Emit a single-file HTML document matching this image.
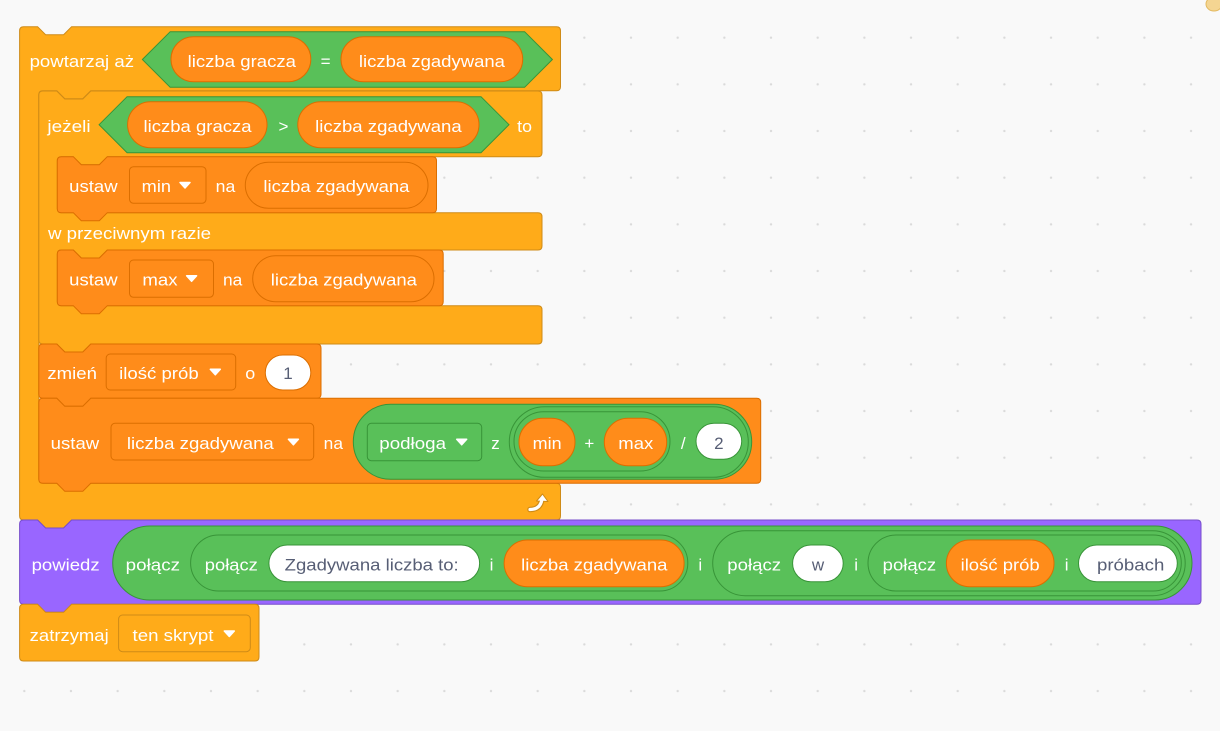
<!DOCTYPE html>
<html>
<head>
<meta charset="utf-8">
<style>
html,body{margin:0;padding:0;background:#F9F9F9;}
svg{display:block;}
text{font-family:"Liberation Sans",Arial,sans-serif;font-size:17px;fill:#fff;}
.d{fill:#575E75;}
</style>
</head>
<body>
<svg width="1220" height="731" viewBox="0 0 1220 731" xmlns="http://www.w3.org/2000/svg">
<defs>
<pattern id="dots" x="0" y="0" width="46.67" height="46.67" patternUnits="userSpaceOnUse">
<circle cx="24.3" cy="37.7" r="1.2" fill="#DADADA"/>
</pattern>
</defs>
<rect width="1220" height="731" fill="#F9F9F9"/>
<rect width="1220" height="731" fill="url(#dots)"/>
<ellipse cx="1214" cy="4" rx="8" ry="7" fill="#F4D592" stroke="#E3B95F" stroke-width="1"/>

<!-- repeat until -->
<path fill="#FFAB19" stroke="#CF8B17" stroke-width="1" d="M19.6,30.7 Q19.6,26.7 23.6,26.7 L37.6,26.7 L45.6,34.7 L63.6,34.7 L71.6,26.7 L556.5,26.7 Q560.5,26.7 560.5,30.7 L560.5,86.7 Q560.5,90.7 556.5,90.7 L90.8,90.7 L82.8,98.7 L64.8,98.7 L56.8,90.7 L42.8,90.7 Q38.8,90.7 38.8,94.7 L38.8,479.3 Q38.8,483.3 42.8,483.3 L556.5,483.3 Q560.5,483.3 560.5,487.3 L560.5,516 Q560.5,520 556.5,520 L71.6,520 L63.6,528 L45.6,528 L37.6,520 L23.6,520 Q19.6,520 19.6,516 Z"/>
<polygon points="142.4,59.5 170.2,31.7 524.6,31.7 552.4,59.5 524.6,87.3 170.2,87.3" fill="#59C059" stroke="#389438" stroke-width="1"/>
<rect x="171" y="36.7" width="139.8" height="45" rx="22.5" fill="#FF8C1A" stroke="#DB6E00"/>
<rect x="341" y="36.7" width="181.7" height="45" rx="22.5" fill="#FF8C1A" stroke="#DB6E00"/>
<text x="29.6" y="67" textLength="104.4" lengthAdjust="spacingAndGlyphs">powtarzaj aż</text>
<text x="187.6" y="67" textLength="108.4" lengthAdjust="spacingAndGlyphs">liczba gracza</text>
<text x="325.6" y="67" text-anchor="middle">=</text>
<text x="358.9" y="67" textLength="146.1" lengthAdjust="spacingAndGlyphs">liczba zgadywana</text>

<!-- if else -->
<path fill="#FFAB19" stroke="#CF8B17" stroke-width="1" d="M38.8,95 Q38.8,91 42.8,91 L56.8,91 L64.8,99 L82.8,99 L90.8,91 L538,91 Q542,91 542,95 L542,152.7 Q542,156.7 538,156.7 L107.3,156.7 L99.3,164.7 L81.3,164.7 L73.3,156.7 L61.3,156.7 Q57.3,156.7 57.3,160.7 L57.3,208.7 Q57.3,212.7 61.3,212.7 L538,212.7 Q542,212.7 542,216.7 L542,246 Q542,250 538,250 L107.3,250 L99.3,258 L81.3,258 L73.3,250 L61.3,250 Q57.3,250 57.3,254 L57.3,301.7 Q57.3,305.7 61.3,305.7 L538,305.7 Q542,305.7 542,309.7 L542,340 Q542,344 538,344 L90.8,344 L82.8,352 L64.8,352 L56.8,344 L42.8,344 Q38.8,344 38.8,340 Z"/>
<polygon points="99.1,124.7 127.1,96.7 481,96.7 509,124.7 481,152.7 127.1,152.7" fill="#59C059" stroke="#389438" stroke-width="1"/>
<rect x="127.6" y="101.7" width="139.4" height="46" rx="23" fill="#FF8C1A" stroke="#DB6E00"/>
<rect x="297.8" y="101.7" width="181.2" height="46" rx="23" fill="#FF8C1A" stroke="#DB6E00"/>
<text x="47.4" y="132.2" textLength="43.2" lengthAdjust="spacingAndGlyphs">jeżeli</text>
<text x="143.5" y="132.2" textLength="108.1" lengthAdjust="spacingAndGlyphs">liczba gracza</text>
<text x="283.5" y="132.2" text-anchor="middle">&gt;</text>
<text x="315.2" y="132.2" textLength="146.5" lengthAdjust="spacingAndGlyphs">liczba zgadywana</text>
<text x="517.2" y="132.2" textLength="14.8" lengthAdjust="spacingAndGlyphs">to</text>
<text x="48" y="238.9" textLength="163" lengthAdjust="spacingAndGlyphs">w przeciwnym razie</text>

<!-- ustaw min -->
<path fill="#FF8C1A" stroke="#DB6E00" stroke-width="1" d="M57.3,160.7 Q57.3,156.7 61.3,156.7 L73.3,156.7 L81.3,164.7 L99.3,164.7 L107.3,156.7 L432.5,156.7 Q436.5,156.7 436.5,160.7 L436.5,208.7 Q436.5,212.7 432.5,212.7 L107.3,212.7 L99.3,220.7 L81.3,220.7 L73.3,212.7 L61.3,212.7 Q57.3,212.7 57.3,208.7 Z"/>
<rect x="129.5" y="166.7" width="76.5" height="36.6" rx="4" fill="#FF8C1A" stroke="#DB6E00"/>
<rect x="245.3" y="162.3" width="182.7" height="46" rx="23" fill="#FF8C1A" stroke="#DB6E00"/>
<text x="69.2" y="192.2" textLength="48.4" lengthAdjust="spacingAndGlyphs">ustaw</text>
<text x="141.7" y="192.2" textLength="29.3" lengthAdjust="spacingAndGlyphs">min</text>
<path d="M180,182.5 L190,182.5 L185,188 Z" fill="#fff" stroke="#fff" stroke-width="1.5" stroke-linejoin="round"/>
<text x="215.7" y="192.2" textLength="19.6" lengthAdjust="spacingAndGlyphs">na</text>
<text x="263.4" y="192.2" textLength="146.1" lengthAdjust="spacingAndGlyphs">liczba zgadywana</text>

<!-- ustaw max -->
<path fill="#FF8C1A" stroke="#DB6E00" stroke-width="1" d="M57.3,254 Q57.3,250 61.3,250 L73.3,250 L81.3,258 L99.3,258 L107.3,250 L439.2,250 Q443.2,250 443.2,254 L443.2,301.7 Q443.2,305.7 439.2,305.7 L107.3,305.7 L99.3,313.7 L81.3,313.7 L73.3,305.7 L61.3,305.7 Q57.3,305.7 57.3,301.7 Z"/>
<rect x="129.5" y="260" width="84" height="37.3" rx="4" fill="#FF8C1A" stroke="#DB6E00"/>
<rect x="252.7" y="255.7" width="181.3" height="46" rx="23" fill="#FF8C1A" stroke="#DB6E00"/>
<text x="69.2" y="285.5" textLength="48.4" lengthAdjust="spacingAndGlyphs">ustaw</text>
<text x="142.4" y="285.5" textLength="35.2" lengthAdjust="spacingAndGlyphs">max</text>
<path d="M186.6,275.8 L196.6,275.8 L191.6,281.3 Z" fill="#fff" stroke="#fff" stroke-width="1.5" stroke-linejoin="round"/>
<text x="223" y="285.5" textLength="19.3" lengthAdjust="spacingAndGlyphs">na</text>
<text x="270.8" y="285.5" textLength="146.2" lengthAdjust="spacingAndGlyphs">liczba zgadywana</text>

<!-- zmien -->
<path fill="#FF8C1A" stroke="#DB6E00" stroke-width="1" d="M38.8,348 Q38.8,344 42.8,344 L56.8,344 L64.8,352 L82.8,352 L90.8,344 L317,344 Q321,344 321,348 L321,394.3 Q321,398.3 317,398.3 L90.8,398.3 L82.8,406.3 L64.8,406.3 L56.8,398.3 L42.8,398.3 Q38.8,398.3 38.8,394.3 Z"/>
<rect x="106.2" y="354" width="129.5" height="36" rx="4" fill="#FF8C1A" stroke="#DB6E00"/>
<rect x="265.3" y="355" width="45.5" height="35" rx="17.5" fill="#fff" stroke="#DB6E00"/>
<text x="47.4" y="379" textLength="49.6" lengthAdjust="spacingAndGlyphs">zmień</text>
<text x="119.1" y="379" textLength="79.6" lengthAdjust="spacingAndGlyphs">ilość prób</text>
<path d="M210.3,369.3 L220.3,369.3 L215.3,374.8 Z" fill="#fff" stroke="#fff" stroke-width="1.5" stroke-linejoin="round"/>
<text x="245.3" y="379" textLength="10" lengthAdjust="spacingAndGlyphs">o</text>
<text x="288" y="379" text-anchor="middle" class="d">1</text>

<!-- ustaw liczba zgadywana -->
<path fill="#FF8C1A" stroke="#DB6E00" stroke-width="1" d="M38.8,402.3 Q38.8,398.3 42.8,398.3 L56.8,398.3 L64.8,406.3 L82.8,406.3 L90.8,398.3 L756.7,398.3 Q760.7,398.3 760.7,402.3 L760.7,479.3 Q760.7,483.3 756.7,483.3 L90.8,483.3 L82.8,491.3 L64.8,491.3 L56.8,483.3 L42.8,483.3 Q38.8,483.3 38.8,479.3 Z"/>
<rect x="111" y="423.3" width="202.7" height="36.7" rx="4" fill="#FF8C1A" stroke="#DB6E00"/>
<rect x="353.3" y="404.3" width="398.4" height="75" rx="37.5" fill="#59C059" stroke="#389438"/>
<rect x="367.3" y="423.3" width="114.4" height="37.4" rx="4" fill="#59C059" stroke="#389438"/>
<rect x="509.3" y="406.7" width="239" height="70.6" rx="35.3" fill="#59C059" stroke="#389438"/>
<rect x="514" y="411.7" width="156" height="59.3" rx="29.65" fill="#59C059" stroke="#389438"/>
<rect x="519" y="418.3" width="56" height="47.4" rx="23.7" fill="#FF8C1A" stroke="#DB6E00"/>
<rect x="604.3" y="418.3" width="62.4" height="47.4" rx="23.7" fill="#FF8C1A" stroke="#DB6E00"/>
<rect x="696" y="423.3" width="45.7" height="36" rx="18" fill="#fff" stroke="#389438"/>
<text x="50.7" y="449" textLength="48.5" lengthAdjust="spacingAndGlyphs">ustaw</text>
<text x="126.9" y="449" textLength="146.9" lengthAdjust="spacingAndGlyphs">liczba zgadywana</text>
<path d="M288.4,439.3 L298.4,439.3 L293.4,444.8 Z" fill="#fff" stroke="#fff" stroke-width="1.5" stroke-linejoin="round"/>
<text x="323.7" y="449" textLength="19.3" lengthAdjust="spacingAndGlyphs">na</text>
<text x="379.3" y="449" textLength="66.7" lengthAdjust="spacingAndGlyphs">podłoga</text>
<path d="M456.7,439.3 L466.7,439.3 L461.7,444.8 Z" fill="#fff" stroke="#fff" stroke-width="1.5" stroke-linejoin="round"/>
<text x="495.5" y="449" text-anchor="middle">z</text>
<text x="532.7" y="449" textLength="29" lengthAdjust="spacingAndGlyphs">min</text>
<text x="589.3" y="449" text-anchor="middle">+</text>
<text x="618.3" y="449" textLength="35" lengthAdjust="spacingAndGlyphs">max</text>
<text x="683.3" y="449" text-anchor="middle">/</text>
<text x="718.8" y="449" text-anchor="middle" class="d">2</text>

<!-- repeat arrow icon -->
<path d="M530,509.5 C537,509.5 541,506 542,499" fill="none" stroke="#CF8B17" stroke-width="5.5" stroke-linecap="round"/>
<path d="M536.5,501 L542.5,494 L548,501.5 Z" fill="#fff" stroke="#CF8B17" stroke-width="1" stroke-linejoin="round"/>
<path d="M530,509.5 C537,509.5 541,506 542,499" fill="none" stroke="#fff" stroke-width="3.2" stroke-linecap="round"/>

<!-- powiedz -->
<path fill="#9966FF" stroke="#774DCB" stroke-width="1" d="M19.6,524 Q19.6,520 23.6,520 L37.6,520 L45.6,528 L63.6,528 L71.6,520 L1197,520 Q1201,520 1201,524 L1201,600.3 Q1201,604.3 1197,604.3 L71.6,604.3 L63.6,612.3 L45.6,612.3 L37.6,604.3 L23.6,604.3 Q19.6,604.3 19.6,600.3 Z"/>
<rect x="112.7" y="526" width="1079.3" height="74" rx="37" fill="#59C059" stroke="#389438"/>
<rect x="190.6" y="535" width="497.2" height="56" rx="28" fill="#59C059" stroke="#389438"/>
<rect x="268.9" y="545" width="210.7" height="36.7" rx="18.3" fill="#fff" stroke="#389438"/>
<rect x="504.1" y="540" width="180" height="46.7" rx="23.3" fill="#FF8C1A" stroke="#DB6E00"/>
<rect x="712.7" y="530.7" width="472.5" height="65" rx="32.5" fill="#59C059" stroke="#389438"/>
<rect x="792.6" y="545" width="50.6" height="36.7" rx="18.3" fill="#fff" stroke="#389438"/>
<rect x="868" y="535" width="313.3" height="56" rx="28" fill="#59C059" stroke="#389438"/>
<rect x="946.4" y="540" width="107.6" height="46.7" rx="23.3" fill="#FF8C1A" stroke="#DB6E00"/>
<rect x="1078.5" y="545" width="98.8" height="36.7" rx="18.3" fill="#fff" stroke="#389438"/>
<text x="31.6" y="570.5" textLength="68" lengthAdjust="spacingAndGlyphs">powiedz</text>
<text x="125.7" y="570.5" textLength="54.3" lengthAdjust="spacingAndGlyphs">połącz</text>
<text x="204.8" y="570.5" textLength="53" lengthAdjust="spacingAndGlyphs">połącz</text>
<text x="284.7" y="570.5" textLength="174" lengthAdjust="spacingAndGlyphs" class="d">Zgadywana liczba to:</text>
<text x="491.5" y="570.5" text-anchor="middle">i</text>
<text x="521.1" y="570.5" textLength="146.4" lengthAdjust="spacingAndGlyphs">liczba zgadywana</text>
<text x="700.3" y="570.5" text-anchor="middle">i</text>
<text x="727.3" y="570.5" textLength="53.8" lengthAdjust="spacingAndGlyphs">połącz</text>
<text x="818" y="570.5" text-anchor="middle" class="d">w</text>
<text x="856.2" y="570.5" text-anchor="middle">i</text>
<text x="882.7" y="570.5" textLength="53.4" lengthAdjust="spacingAndGlyphs">połącz</text>
<text x="960.6" y="570.5" textLength="79.1" lengthAdjust="spacingAndGlyphs">ilość prób</text>
<text x="1066.6" y="570.5" text-anchor="middle">i</text>
<text x="1097" y="570.5" textLength="67.3" lengthAdjust="spacingAndGlyphs" class="d">próbach</text>

<!-- zatrzymaj -->
<path fill="#FFAB19" stroke="#CF8B17" stroke-width="1" d="M19.6,608.3 Q19.6,604.3 23.6,604.3 L37.6,604.3 L45.6,612.3 L63.6,612.3 L71.6,604.3 L255,604.3 Q259,604.3 259,608.3 L259,657 Q259,661 255,661 L23.6,661 Q19.6,661 19.6,657 Z"/>
<rect x="118.6" y="615" width="131.7" height="36.7" rx="4" fill="#FFAB19" stroke="#CF8B17"/>
<text x="29.7" y="640.8" textLength="79" lengthAdjust="spacingAndGlyphs">zatrzymaj</text>
<text x="132.5" y="640.8" textLength="81" lengthAdjust="spacingAndGlyphs">ten skrypt</text>
<path d="M224.3,631 L234.3,631 L229.3,636.5 Z" fill="#fff" stroke="#fff" stroke-width="1.5" stroke-linejoin="round"/>
</svg>
</body>
</html>
